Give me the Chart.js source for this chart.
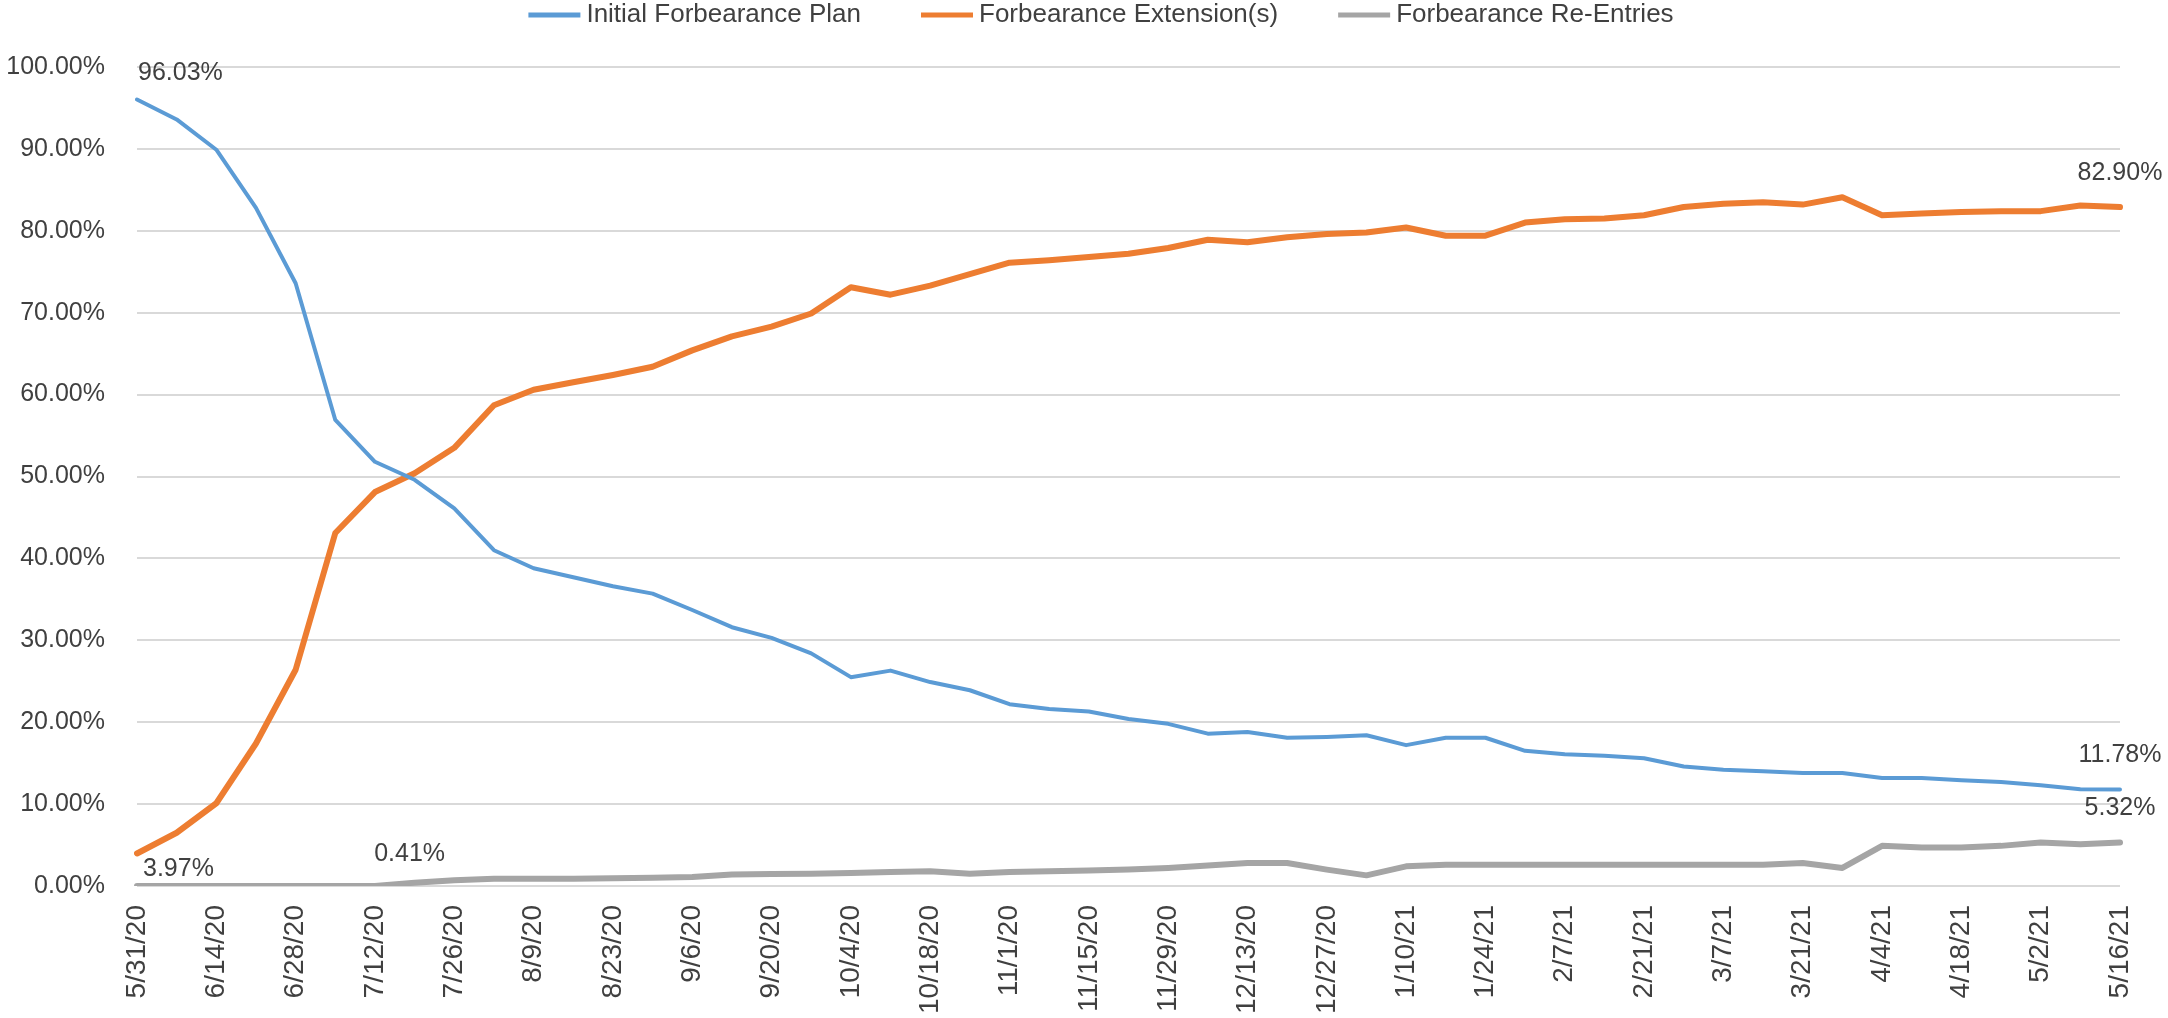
<!DOCTYPE html>
<html>
<head>
<meta charset="utf-8">
<script src="https://cdn.jsdelivr.net/npm/chart.js@4.4.1/dist/chart.umd.min.js"></script>
<style>
  html, body { margin: 0; padding: 0; background: #fff; }
</style>
</head>
<body>
<canvas id="forbearance-chart" width="2168" height="1018"></canvas>
<script>
const weeks = ['5/31/20', '6/7/20', '6/14/20', '6/21/20', '6/28/20', '7/5/20', '7/12/20', '7/19/20', '7/26/20', '8/2/20',
  '8/9/20', '8/16/20', '8/23/20', '8/30/20', '9/6/20', '9/13/20', '9/20/20', '9/27/20', '10/4/20', '10/11/20',
  '10/18/20', '10/25/20', '11/1/20', '11/8/20', '11/15/20', '11/22/20', '11/29/20', '12/6/20', '12/13/20', '12/20/20',
  '12/27/20', '1/3/21', '1/10/21', '1/17/21', '1/24/21', '1/31/21', '2/7/21', '2/14/21', '2/21/21', '2/28/21',
  '3/7/21', '3/14/21', '3/21/21', '3/28/21', '4/4/21', '4/11/21', '4/18/21', '4/25/21', '5/2/21', '5/9/21', '5/16/21'];

const initialPlan = [96.03, 93.6, 89.9, 82.8, 73.6, 56.9, 51.8, 49.6, 46.1, 41.0,
  38.8, 37.7, 36.6, 35.7, 33.7, 31.6, 30.3, 28.4, 25.5, 26.3,
  24.9, 23.9, 22.2, 21.6, 21.3, 20.4, 19.8, 18.6, 18.8, 18.1,
  18.2, 18.4, 17.2, 18.1, 18.1, 16.5, 16.1, 15.9, 15.6, 14.6,
  14.2, 14.0, 13.8, 13.8, 13.2, 13.2, 12.9, 12.7, 12.3, 11.8, 11.78];

const extensions = [3.97, 6.5, 10.1, 17.4, 26.4, 43.1, 48.1, 50.4, 53.5, 58.7,
  60.6, 61.5, 62.4, 63.4, 65.4, 67.1, 68.3, 69.9, 73.1, 72.2,
  73.3, 74.7, 76.1, 76.4, 76.8, 77.2, 77.9, 78.9, 78.6, 79.2,
  79.6, 79.8, 80.4, 79.4, 79.4, 81.0, 81.4, 81.5, 81.9, 82.9,
  83.3, 83.5, 83.2, 84.1, 81.9, 82.1, 82.3, 82.4, 82.4, 83.1, 82.90];

const reEntries = [0, 0, 0, 0, 0, 0, 0, 0.41, 0.7, 0.9,
  0.9, 0.9, 0.95, 1.0, 1.1, 1.4, 1.45, 1.5, 1.6, 1.7,
  1.8, 1.5, 1.7, 1.8, 1.9, 2.0, 2.2, 2.5, 2.8, 2.8,
  2.0, 1.3, 2.4, 2.6, 2.6, 2.6, 2.6, 2.6, 2.6, 2.6,
  2.6, 2.6, 2.8, 2.2, 4.9, 4.7, 4.7, 4.9, 5.3, 5.1, 5.32];

const yTicks = [0, 10, 20, 30, 40, 50, 60, 70, 80, 90, 100];

// which points get a value label: [dataset, index]
const labelled = [[0, 0], [0, 50], [1, 0], [1, 50], [2, 7], [2, 50]];

const textColor = '#404040';
const labelFont = '25px "Liberation Sans", Arial, sans-serif';

// value labels drawn next to chosen points
const pointLabels = {
  id: 'pointLabels',
  afterDatasetsDraw(chart) {
    const ctx = chart.ctx;
    ctx.save();
    ctx.font = labelFont;
    ctx.fillStyle = textColor;
    ctx.textBaseline = 'middle';
    labelled.forEach(([d, i]) => {
      const pt = chart.getDatasetMeta(d).data[i];
      const val = chart.data.datasets[d].data[i];
      const text = val.toFixed(2) + '%';
      let x = pt.x, y = pt.y - 34;
      ctx.textAlign = 'center';
      if (i === 0) {
        ctx.textAlign = 'left';
        if (d === 0) { x = pt.x + 1; y = pt.y - 26; }
        else { x = pt.x + 6; y = pt.y + 16; }
      } else if (d === 2 && i === 7) {
        x = pt.x - 5;
        y = pt.y - 29;
      }
      ctx.fillText(text, x, y);
    });
    ctx.restore();
  }
};

// legend drawn across the top
const topLegend = {
  id: 'topLegend',
  afterDraw(chart) {
    const ctx = chart.ctx;
    const sets = chart.data.datasets;
    ctx.save();
    ctx.font = '26px "Liberation Sans", Arial, sans-serif';
    const lineW = 52, gap = 6, spacing = 60;
    const widths = sets.map(s => lineW + gap + ctx.measureText(s.label).width);
    const total = widths.reduce((a, b) => a + b, 0) + spacing * (sets.length - 1);
    let x = 1101 - total / 2;
    const y = 15;
    sets.forEach((s, k) => {
      ctx.strokeStyle = s.borderColor;
      ctx.lineWidth = 5;
      ctx.beginPath();
      ctx.moveTo(x, y);
      ctx.lineTo(x + lineW, y);
      ctx.stroke();
      ctx.fillStyle = textColor;
      ctx.textAlign = 'left';
      ctx.textBaseline = 'middle';
      ctx.fillText(s.label, x + lineW + gap, y);
      x += widths[k] + spacing;
    });
    ctx.restore();
  }
};

const ctx = document.getElementById('forbearance-chart').getContext('2d');
new Chart(ctx, {
  type: 'line',
  data: {
    labels: weeks,
    datasets: [
      { label: 'Initial Forbearance Plan', data: initialPlan, borderColor: '#5B9BD5', borderWidth: 4 },
      { label: 'Forbearance Extension(s)', data: extensions, borderColor: '#ED7D31', borderWidth: 6 },
      { label: 'Forbearance Re-Entries', data: reEntries, borderColor: '#A5A5A5', borderWidth: 6 },
    ],
  },
  options: {
    responsive: false,
    animation: false,
    events: [],
    layout: { padding: { top: 67, right: 48, left: 0, bottom: 0 } },
    elements: {
      line: { tension: 0, fill: false, borderJoinStyle: 'round', borderCapStyle: 'round' },
      point: { radius: 0 },
    },
    plugins: { legend: { display: false }, tooltip: { enabled: false } },
    scales: {
      x: {
        offset: false,
        grid: { display: false, drawTicks: false },
        border: { display: false },
        afterFit(scale) {
          scale.height = 132;
          scale.paddingLeft = 0;
          scale.paddingRight = 0;
        },
        ticks: {
          autoSkip: false,
          minRotation: 90,
          maxRotation: 90,
          padding: 19,
          color: textColor,
          font: { family: '"Liberation Sans", Arial, sans-serif', size: 28 },
          callback(value, index) { return index % 2 === 0 ? weeks[index] : ''; },
        },
      },
      y: {
        min: 0,
        max: 100,
        afterFit(scale) { scale.width = 137; },
        afterBuildTicks(scale) { scale.ticks = yTicks.map(v => ({ value: v })); },
        grid: { color: '#D9D9D9', lineWidth: 2, drawTicks: false },
        border: { display: false },
        ticks: {
          padding: 32,
          color: textColor,
          font: { family: '"Liberation Sans", Arial, sans-serif', size: 25 },
          callback(value) { return value.toFixed(2) + '%'; },
        },
      },
    },
  },
  plugins: [pointLabels, topLegend],
});
</script>
</body>
</html>
